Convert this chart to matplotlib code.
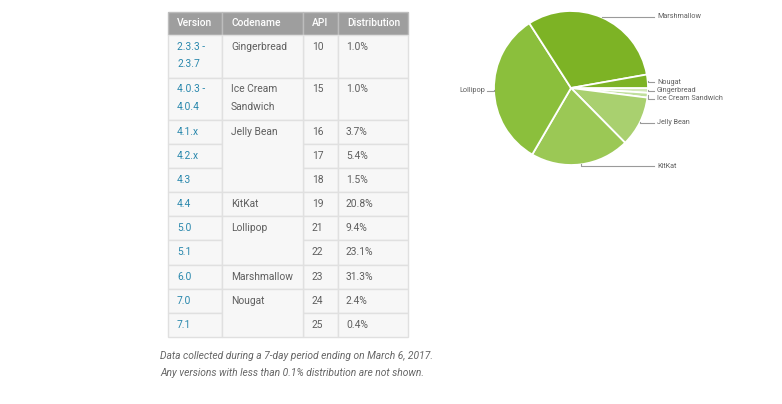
import numpy as np
import matplotlib.pyplot as plt
from matplotlib.patches import Rectangle

plt.rcParams['font.family'] = ['Roboto', 'DejaVu Sans']

# =============================================================================
# Data
# =============================================================================

headers = ['Version', 'Codename', 'API', 'Distribution']
versions = ['2.3.3 -\n2.3.7', '4.0.3 -\n4.0.4', '4.1.x', '4.2.x', '4.3', '4.4',
            '5.0', '5.1', '6.0', '7.0', '7.1']
apis = [10, 15, 16, 17, 18, 19, 21, 22, 23, 24, 25]
dist = [1.0, 1.0, 3.7, 5.4, 1.5, 20.8, 9.4, 23.1, 31.3, 2.4, 0.4]
codenames = ['Gingerbread', 'Ice Cream\nSandwich', 'Jelly Bean', 'KitKat',
             'Lollipop', 'Marshmallow', 'Nougat']
code_rows = [1, 1, 3, 1, 2, 1, 2]
pie_labels = ['Gingerbread', 'Ice Cream Sandwich', 'Jelly Bean', 'KitKat',
              'Lollipop', 'Marshmallow', 'Nougat']
pie_colors = ['#d3e8b8', '#c0df9c', '#a9d06f', '#9bc855',
              '#8bbf3c', '#7db325', '#7db325']
note = ['Data collected during a 7-day period ending on March 6, 2017.',
        'Any versions with less than 0.1% distribution are not shown.']

# pie values = sum of distribution per codename
idx = np.cumsum([0] + code_rows)
pie_vals = [sum(dist[idx[i]:idx[i+1]]) for i in range(len(code_rows))]

# =============================================================================
# Table
# =============================================================================

fig = plt.figure(figsize=(7.82, 4.04), dpi=100)
ax = fig.add_axes([0, 0, 1, 1])
ax.set_xlim(0, 782)
ax.set_ylim(404, 0)
ax.axis('off')

col_x = [168, 222, 303, 338, 408]
head_top, head_bot = 12, 35
body_bg = '#f7f7f7'
line_c = '#e0e0e0'
txt_c = '#5f5f5f'
link_c = '#2a88ad'
fs = 7.4
lh = 17


def cell_text(x, y0, s, color):
    for k, line in enumerate(s.split('\n')):
        ax.text(x, y0 + 12 + k*lh, line, color=color, fontsize=fs, va='center')


for j, h in enumerate(headers):
    ax.add_patch(Rectangle((col_x[j], head_top), col_x[j+1]-col_x[j], head_bot-head_top,
                           facecolor='#9e9e9e', edgecolor='#bdbdbd', lw=1))
    ax.text(col_x[j]+9, (head_top+head_bot)/2, h, color='white', fontsize=fs,
            fontweight='medium', va='center', ha='left')

heights = [42.5 if '\n' in v else 24.1 for v in versions]
row_top = head_bot + np.concatenate([[0], np.cumsum(heights)])

for i, v in enumerate(versions):
    y0 = row_top[i]
    for j in [0, 2, 3]:
        ax.add_patch(Rectangle((col_x[j], y0), col_x[j+1]-col_x[j], heights[i],
                               facecolor=body_bg, edgecolor=line_c, lw=1))
    cell_text(col_x[0]+9, y0, v, link_c)
    cell_text(col_x[2]+9, y0, str(apis[i]), txt_c)
    cell_text(col_x[3]+8, y0, f'{dist[i]:.1f}%', txt_c)

for g, name in enumerate(codenames):
    y0 = row_top[idx[g]]
    y1 = row_top[idx[g+1]]
    ax.add_patch(Rectangle((col_x[1], y0), col_x[2]-col_x[1], y1-y0,
                           facecolor=body_bg, edgecolor=line_c, lw=1))
    cell_text(col_x[1]+9, y0, name, txt_c)

for k, line in enumerate(note):
    ax.text(160, 356 + k*17, line, color='#666666', fontsize=fs, style='italic',
            va='center')

# =============================================================================
# Pie
# =============================================================================

cx, cy, r = 571, 88, 77
pax = fig.add_axes([(cx-r)/782, (404-cy-r)/404, 2*r/782, 2*r/404])
pax.pie(pie_vals, colors=pie_colors, startangle=0, counterclock=False,
        radius=1, wedgeprops=dict(edgecolor='white', linewidth=1.3))
pax.set_xlim(-1, 1)
pax.set_ylim(-1, 1)

# label rows in pixels
lab_y = [91, 99, 123, 166, 91, 17, 82]
cum = np.concatenate([[0], np.cumsum(pie_vals)])
for k, lab in enumerate(pie_labels):
    th = -np.deg2rad((cum[k] + pie_vals[k]/2) * 3.6)
    ex, ey = np.cos(th), np.sin(th)
    ly = (cy - lab_y[k]) / r
    if ex > 0:
        lx_end, tx, ha = (654-cx)/r, (657-cx)/r, 'left'
    else:
        lx_end, tx, ha = (487-cx)/r, (485-cx)/r, 'right'
    pax.plot([ex, ex, lx_end], [ey, ly, ly], color='#9a9a9a', lw=0.8,
             clip_on=False)
    pax.text(tx, ly, lab, color=txt_c, fontsize=5.2, ha=ha, va='center',
             clip_on=False)

fig.savefig('out.png', dpi=100, facecolor='white')
